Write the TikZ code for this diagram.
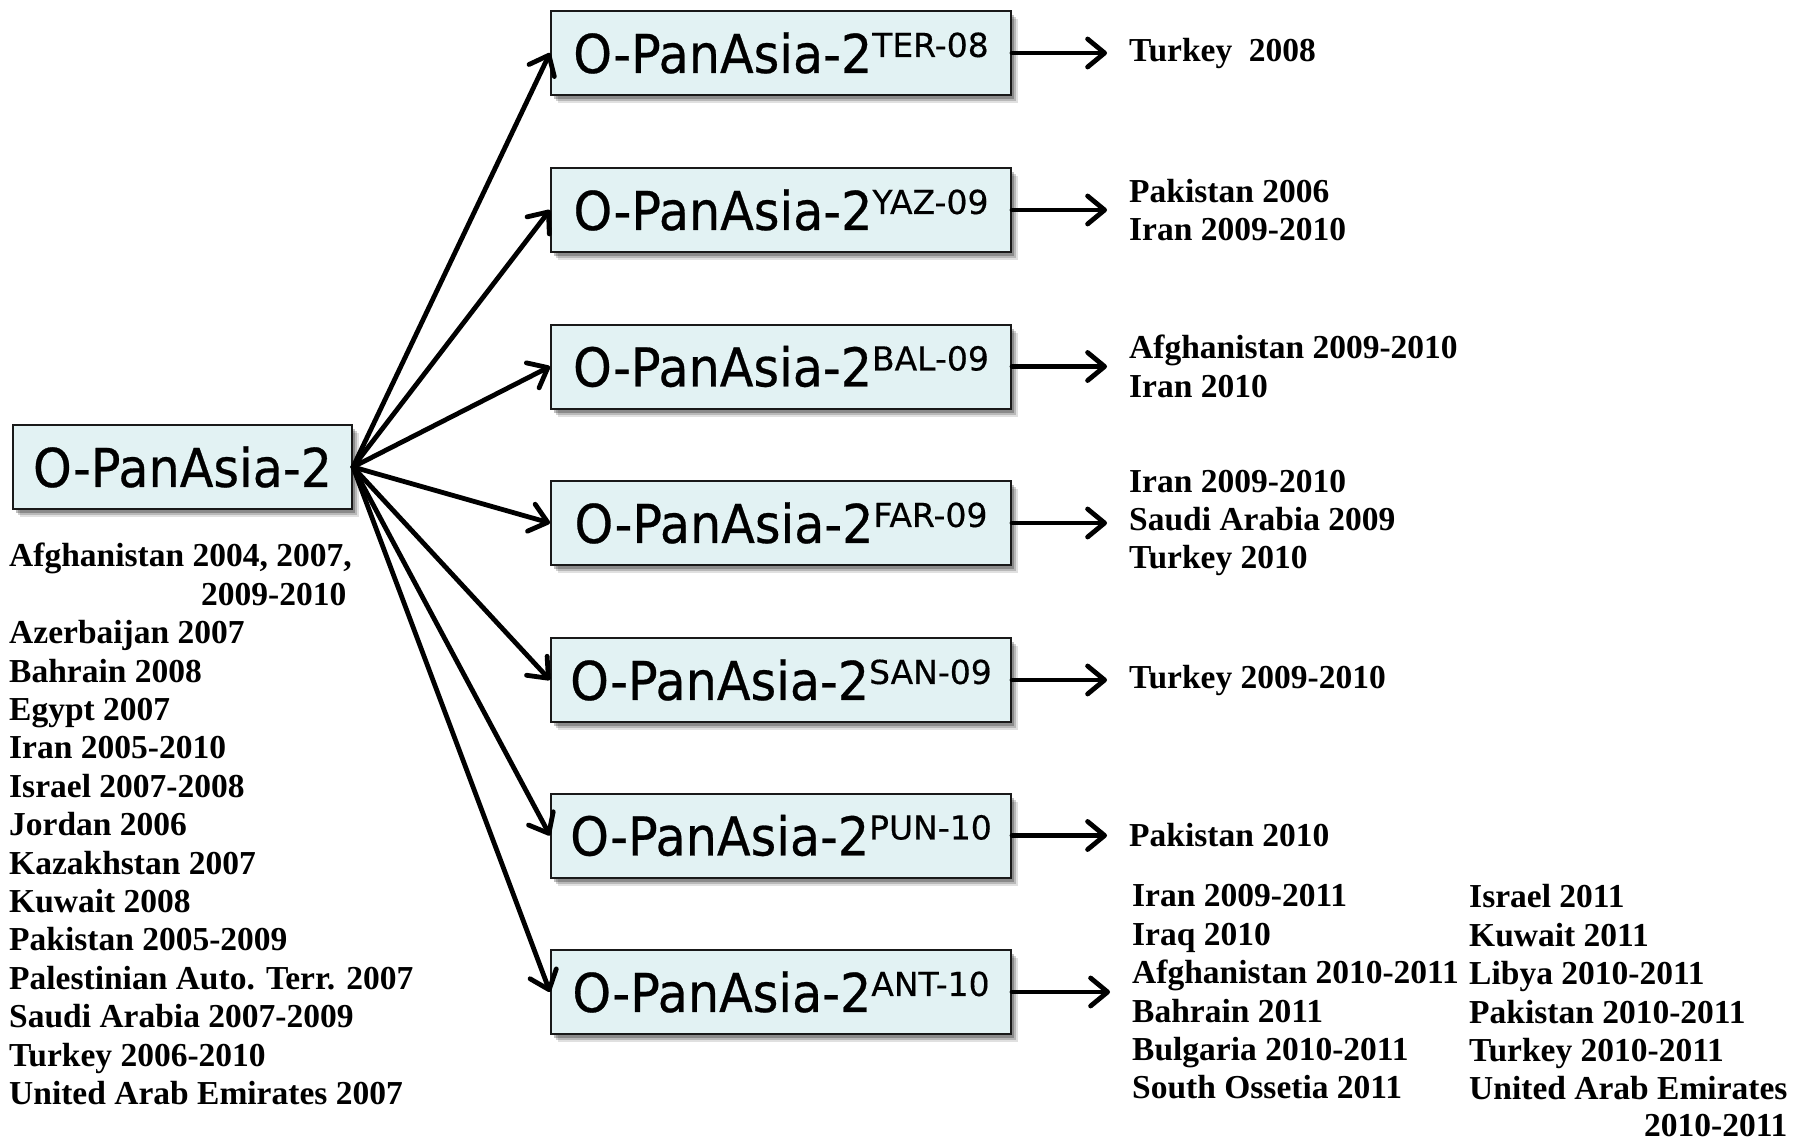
\documentclass[tikz,border=0pt]{standalone}
\usepackage{fontspec}
\newfontfamily\boxfont{DejaVu Sans}[FakeStretch=0.92, FakeBold=0.5]
\newfontfamily\supfont{DejaVu Sans}[FakeBold=0.4]
\newfontfamily\lstfamily{Liberation Serif}
\usetikzlibrary{arrows.meta,shadows}
\definecolor{boxfill}{RGB}{226,242,243}
\definecolor{boxline}{RGB}{25,25,25}
\newcommand{\lstfnt}{\lstfamily\bfseries\fontsize{33.5}{38.4}\selectfont}
\newcommand{\pa}[1]{O-PanAsia-2\raisebox{16pt}{\supfont\fontsize{33}{33}\selectfont #1}}
\begin{document}
\begin{tikzpicture}[x=1pt,y=1pt,
  pbox/.style={draw=boxline, line width=2pt, fill=boxfill, inner sep=0pt,
    minimum height=84pt, font=\boxfont\fontsize{53.5}{60}\selectfont,
    drop shadow={shadow xshift=7pt, shadow yshift=-8pt, opacity=0.12, fill=black},
    drop shadow={shadow xshift=5pt, shadow yshift=-6pt, opacity=0.18, fill=black},
    drop shadow={shadow xshift=3pt, shadow yshift=-4pt, opacity=0.25, fill=black}},
  cbox/.style={pbox, minimum width=460pt},
  lst/.style={font=\lstfnt, align=left, inner sep=0pt, anchor=west},
  arr/.style={line width=4.8pt, line cap=round,
    -{Straight Barb[round, length=17pt, width=28pt]}},
  rarr/.style={arr, shorten >=22pt}
]
\useasboundingbox (0,0) rectangle (1793,-1140);

\node[pbox, minimum width=339pt] (m) at (182.5,-467) {O-PanAsia-2};

\node[cbox] (b1) at (781,-53)    {\pa{TER-08}};
\node[cbox] (b2) at (781,-210)   {\pa{YAZ-09}};
\node[cbox] (b3) at (781,-366.5) {\pa{BAL-09}};
\node[cbox] (b4) at (781,-523)   {\pa{FAR-09}};
\node[cbox] (b5) at (781,-680)   {\pa{SAN-09}};
\node[cbox] (b6) at (781,-835.5) {\pa{PUN-10}};
\node[cbox] (b7) at (781,-992)   {\pa{ANT-10}};

\node[lst, anchor=north west] (ml) at (9,-543) {Afghanistan 2004, 2007,\\
\hspace*{192pt}2009-2010\\
Azerbaijan 2007\\
Bahrain 2008\\
Egypt 2007\\
Iran 2005-2010\\
Israel 2007-2008\\
Jordan 2006\\
Kazakhstan 2007\\
Kuwait 2008\\
Pakistan 2005-2009\\
Palestinian Auto. Terr. 2007\\
Saudi Arabia 2007-2009\\
Turkey 2006-2010\\
United Arab Emirates 2007};

\node[lst] (l1) at (1129,-53) {Turkey~ 2008};
\node[lst] (l2) at (1129,-210) {Pakistan 2006\\ Iran 2009-2010};
\node[lst] (l3) at (1129,-366.5) {Afghanistan 2009-2010\\ Iran 2010};
\node[lst] (l4) at (1129,-523) {Iran 2009-2010\\ Saudi Arabia 2009\\ Turkey 2010};
\node[lst] (l5) at (1129,-680) {Turkey 2009-2010};
\node[lst] (l6) at (1129,-835.5) {Pakistan 2010};
\node[lst] (l7a) at (1132,-992) {Iran 2009-2011\\ Iraq 2010\\ Afghanistan 2010-2011\\ Bahrain 2011\\ Bulgaria 2010-2011\\ South Ossetia 2011};
\path (l7a.north west) ++(337,0) node[lst, anchor=north west] (l7b) {Israel 2011\\ Kuwait 2011\\ Libya 2010-2011\\ Pakistan 2010-2011\\ Turkey 2010-2011\\ United Arab Emirates\\[-2pt] \hfill 2010-2011};

\foreach \b in {b1,b2,b3,b4,b5,b6,b7}
  \draw[arr] (m.east) -- (\b.west);

\draw[rarr] (b1.east) -- (b1.east -| l1.west);
\draw[rarr] (b2.east) -- (b2.east -| l2.west);
\draw[rarr] (b3.east) -- (b3.east -| l3.west);
\draw[rarr] (b4.east) -- (b4.east -| l4.west);
\draw[rarr] (b5.east) -- (b5.east -| l5.west);
\draw[rarr] (b6.east) -- (b6.east -| l6.west);
\draw[rarr] (b7.east) -- (b7.east -| l7a.west);
\end{tikzpicture}
\end{document}
